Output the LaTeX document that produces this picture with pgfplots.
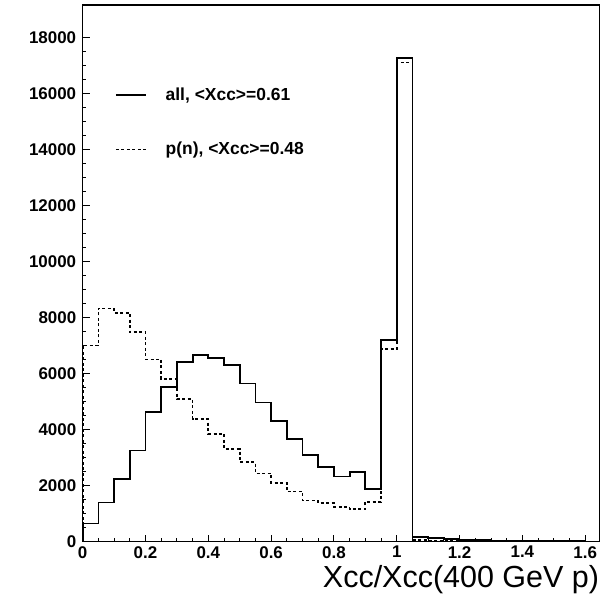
\documentclass[border=0pt]{standalone}
\usepackage{fontspec}
\setmainfont{Liberation Sans}
\usepackage{pgfplots}
\pgfplotsset{compat=1.18}
\pgfplotstableread{
x y
0.00 0
0.00 650
0.05 1400
0.10 2240
0.15 3260
0.20 4630
0.25 5530
0.30 6420
0.35 6660
0.40 6550
0.45 6310
0.50 5650
0.55 4970
0.60 4310
0.65 3660
0.70 3100
0.75 2670
0.80 2330
0.85 2480
0.90 1870
0.95 7200
1.00 17280
1.05 180
1.10 120
1.15 85
1.20 70
1.25 55
1.30 40
1.35 30
1.40 25
1.45 20
1.50 15
1.55 12
1.60 10
1.65 10
}\alldata
\pgfplotstableread{
x y
0.00 0
0.00 7010
0.05 8330
0.10 8180
0.15 7480
0.20 6510
0.25 5810
0.30 5090
0.35 4380
0.40 3850
0.45 3310
0.50 2840
0.55 2440
0.60 2100
0.65 1790
0.70 1470
0.75 1390
0.80 1250
0.85 1160
0.90 1430
0.95 6880
1.00 17120
1.05 60
1.10 40
1.15 30
1.20 25
1.25 20
1.30 15
1.35 12
1.40 10
1.45 8
1.50 6
1.55 5
1.60 4
1.65 4
}\pndata
\begin{document}
\begin{tikzpicture}
\begin{axis}[
  scale only axis,
  width=516.6bp, height=536.7bp,
  xmin=0, xmax=1.645, ymin=0, ymax=19170,
  xtick={0,0.2,...,1.6},
  xticklabels={0,0.2,0.4,0.6,0.8,1,1.2,1.4,1.6},
  ytick={0,2000,...,18000},
  minor x tick num=3, minor y tick num=3,
  tick align=inside,
  xtick pos=bottom, ytick pos=left,
  major tick length=7bp, minor tick length=3.5bp,
  axis line style={line width=1.3bp},
  every tick/.style={line width=0.9bp, black},
  scaled y ticks=false,
  /pgf/number format/assume math mode=true,
  yticklabel={\pgfmathprintnumber[fixed,precision=0,1000 sep={}]{\tick}},
  ticklabel style={font=\fontsize{17}{20}\selectfont\bfseries},
  xticklabel style={yshift=-1bp},
  yticklabel style={xshift=-3bp},
  xlabel={Xcc/Xcc(400 GeV p)},
  xlabel style={at={(rel axis cs:1,0)}, anchor=base east, yshift=-46bp, inner sep=0pt, font=\fontsize{30.6}{36}\selectfont},
  legend style={draw=none, fill=none, at={(rel axis cs:0,1)}, anchor=north west, xshift=32bp, yshift=-81bp,
    font=\fontsize{17.5}{20}\selectfont\bfseries, row sep=36bp, inner sep=0pt,
    /tikz/every odd column/.append style={column sep=17bp}},
  legend cell align=left,
  legend image code/.code={\draw[#1] (0bp,0bp) -- (30bp,0bp);},
]
\addplot[const plot, black, line width=1.8bp] table[x=x,y=y] {\alldata};
\addlegendentry{all, <Xcc>=0.61}
\addplot[const plot, black, line width=1.7bp, dash pattern=on 3bp off 2.5bp] table[x=x,y=y] {\pndata};
\addlegendentry{p(n), <Xcc>=0.48}
\end{axis}
\pgfresetboundingbox
\path (current axis.south west) ++(-82.7bp,-54.3bp) rectangle ++(601bp,596bp);
\end{tikzpicture}
\end{document}
